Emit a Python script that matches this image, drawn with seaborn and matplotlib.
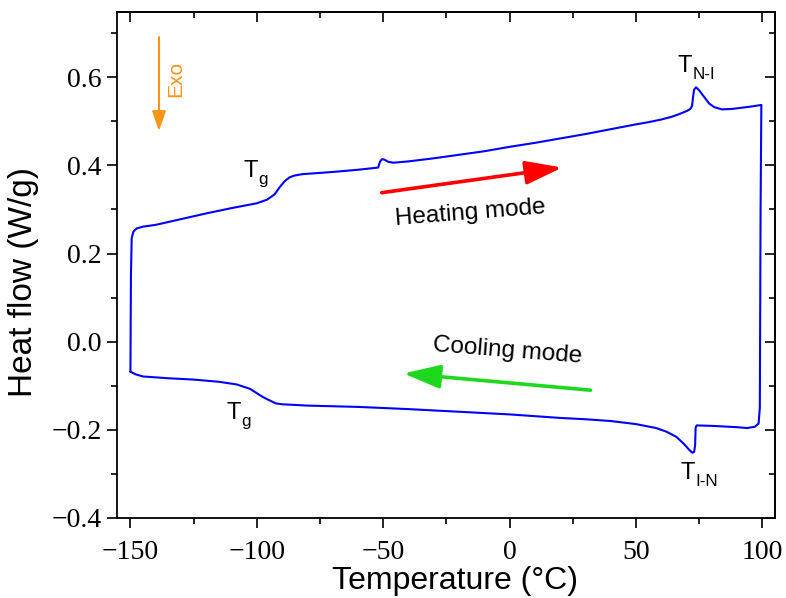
import numpy as np
import pandas as pd
import matplotlib
matplotlib.use("Agg")
import matplotlib.pyplot as plt
import seaborn as sns

# --- DSC loop (temperature in °C, heat flow in W/g) ---
heating_T = [-150.0, -149.8, -149.5, -148.8, -147.5, -145, -140, -130, -120, -110,
             -100, -96, -93, -91, -89, -87, -85, -82, -70, -60,
             -52, -51.3, -50.5, -49.5, -48, -46, -40, -30, -20, -10,
             0, 10, 20, 30, 40, 50, 55, 60, 64, 67, 70, 71.5, 72.2,
             72.6, 73, 73.8, 75, 77, 79, 81, 84, 88, 95, 99.6]
heating_HF = [-0.068, 0.15, 0.235, 0.250, 0.257, 0.261, 0.265, 0.278, 0.291, 0.303,
              0.314, 0.322, 0.334, 0.350, 0.364, 0.373, 0.377, 0.380, 0.385, 0.390,
              0.395, 0.408, 0.414, 0.413, 0.408, 0.406, 0.409, 0.416, 0.424, 0.432,
              0.442, 0.451, 0.461, 0.471, 0.482, 0.493, 0.498, 0.504, 0.510, 0.516, 0.523, 0.528, 0.535,
              0.556, 0.572, 0.577, 0.570, 0.555, 0.540, 0.532, 0.527, 0.528, 0.533, 0.537]

cooling_T = [99.6, 99.3, 99.0, 98.5, 97, 94, 90, 80, 74.0, 73.6,
             73.4, 73.0, 72.3, 71, 69, 66, 62, 58, 50, 40,
             30, 20, 10, 0, -20, -40, -60, -80, -90, -92.5,
             -95, -97.5, -102.7, -108, -115, -125, -135, -145, -148, -150.0]
cooling_HF = [0.537, 0.30, -0.15, -0.186, -0.193, -0.196, -0.194, -0.191, -0.190, -0.195,
              -0.235, -0.250, -0.252, -0.245, -0.232, -0.216, -0.204, -0.196, -0.187, -0.180,
              -0.176, -0.173, -0.169, -0.165, -0.159, -0.153, -0.148, -0.145, -0.142, -0.140,
              -0.133, -0.126, -0.107, -0.097, -0.091, -0.086, -0.083, -0.079, -0.074, -0.068]

x_major = [-150, -100, -50, 0, 50, 100]
x_labels = ["\u2212150", "\u2212100", "\u221250", "0", "50", "100"]
y_major = [-0.4, -0.2, 0.0, 0.2, 0.4, 0.6]
y_labels = ["\u22120.4", "\u22120.2", "0.0", "0.2", "0.4", "0.6"]

loop = pd.DataFrame({
    "T": heating_T + cooling_T,
    "HF": heating_HF + cooling_HF,
})

# --- style ---
sns.set_theme(style="ticks")
plt.rcParams["font.family"] = ["Liberation Sans", "DejaVu Sans"]

fig = plt.figure(figsize=(7.86, 5.98), dpi=100)
ax = fig.add_axes([0.1489, 0.1338, 0.8371, 0.8462])

sns.lineplot(data=loop, x="T", y="HF", sort=False, estimator=None,
             color="#0000FF", linewidth=1.5, ax=ax)

ax.set_xlim(-155.3, 105)
ax.set_ylim(-0.4, 0.748)
ax.set_xticks(x_major)
ax.set_xticklabels(x_labels)
ax.set_yticks(y_major)
ax.set_yticklabels(y_labels)
ax.set_xticks(np.arange(-125, 101, 50), minor=True)
ax.set_yticks(np.arange(-0.3, 0.71, 0.2), minor=True)

for s in ax.spines.values():
    s.set_visible(True)
    s.set_color("black")
    s.set_linewidth(1.3)

ax.tick_params(which="both", direction="out", color="black", width=1.2)
ax.tick_params(which="major", length=7)
ax.tick_params(which="minor", length=4)
ax.tick_params(axis="x", pad=9)
ax.tick_params(axis="y", pad=4)
for lab in ax.get_xticklabels() + ax.get_yticklabels():
    lab.set_family("Liberation Serif")
    lab.set_fontsize(20)
    lab.set_color("black")

# mirror ticks on top and right, pointing inward, no labels
top = ax.secondary_xaxis("top")
top.set_xticks(x_major)
top.set_xticks(np.arange(-125, 101, 50), minor=True)
top.tick_params(which="both", direction="in", labeltop=False, width=1.2, color="black")
top.tick_params(which="major", length=7)
top.tick_params(which="minor", length=4)
top.spines["top"].set_linewidth(1.3)
right = ax.secondary_yaxis("right")
right.set_yticks(y_major)
right.set_yticks(np.arange(-0.3, 0.71, 0.2), minor=True)
right.tick_params(which="both", direction="in", labelright=False, width=1.2, color="black")
right.tick_params(which="major", length=7)
right.tick_params(which="minor", length=4)
right.spines["right"].set_linewidth(1.3)

ax.set_xlabel("")
ax.set_ylabel("")
fig.text(455 / 786, 1 - 581 / 598, "Temperature (\u00b0C)", fontsize=23,
         ha="center", va="center", color="black")
fig.text(24 / 786, 1 - 282 / 598, "Heat flow (W/g)", fontsize=24, rotation=90,
         ha="center", va="center", color="black")


def t_label(x, y, sub, size=17):
    """Draw a T with a plain-text subscript at data point (x, y)."""
    ax.text(x, y, "T", fontsize=size, ha="left", va="baseline", color="black")
    ax.annotate(sub, xy=(x, y), xytext=(0.64 * size, -5), textcoords="offset points",
                fontsize=size * 0.72, ha="left", va="baseline", color="black")


t_label(-105.4, 0.373, "g")
t_label(-112.0, -0.175, "g")
t_label(66.3, 0.612, "N-I")
t_label(67.6, -0.311, "I-N")

# Exo arrow
ax.annotate("", xy=(-138.7, 0.478), xytext=(-138.7, 0.691),
            arrowprops=dict(arrowstyle="-|>,head_length=1.0,head_width=0.35",
                            color="#FF9414", lw=1.5, shrinkA=0, shrinkB=0,
                            mutation_scale=12))
ax.text(-132.1, 0.595, "Exo", rotation=90, fontsize=15, color="#FF9414",
        ha="center", va="center")

# heating / cooling arrows
ax.annotate("", xy=(20.8, 0.395), xytext=(-50.6, 0.338),
            arrowprops=dict(arrowstyle="-|>,head_length=1.4,head_width=0.45",
                            color="#FF0000", lw=2.6, shrinkA=0, shrinkB=0,
                            mutation_scale=16))
ax.text(-15.6, 0.291, "Heating mode", rotation=4.5, fontsize=17.5, color="black",
        ha="center", va="center", rotation_mode="anchor")

ax.annotate("", xy=(-42.0, -0.072), xytext=(32.0, -0.110),
            arrowprops=dict(arrowstyle="-|>,head_length=1.4,head_width=0.45",
                            color="#1ED81E", lw=2.6, shrinkA=0, shrinkB=0,
                            mutation_scale=16))
ax.text(-0.7, -0.021, "Cooling mode", rotation=-4.5, fontsize=17.5, color="black",
        ha="center", va="center", rotation_mode="anchor")

fig.savefig("out.png", dpi=100)
plt.close(fig)
